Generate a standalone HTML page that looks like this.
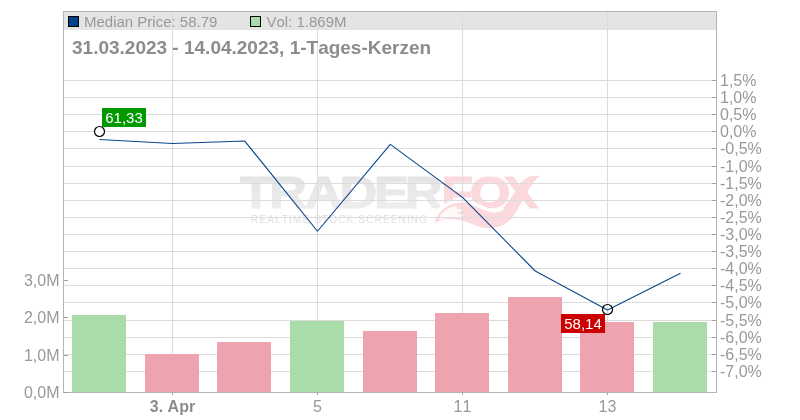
<!DOCTYPE html><html><head><meta charset="utf-8"><title>Chart</title><style>
html,body{margin:0;padding:0;background:#fff}svg{display:block}text{font-family:"Liberation Sans",Arial,sans-serif;font-kerning:none}
</style></head><body>
<svg width="800" height="420" viewBox="0 0 800 420">
<defs><linearGradient id="wg" x1="0" y1="0" x2="0" y2="1"><stop offset="0" stop-color="#e1e1e1"/><stop offset="1" stop-color="#f0f0f0"/></linearGradient></defs>
<rect width="800" height="420" fill="#fff"/>
<rect x="63" y="11" width="654" height="19" fill="#e4e4e4"/>
<text id="wm" transform="translate(0,207.5) scale(1.2,1)" x="200.01 224.29 253.87 282.88 311.73 337.20 367.69 391.40 419.63" y="0" font-weight="700" font-size="43.6" stroke-width="1.1" stroke-linejoin="round" fill="url(#wg)" stroke="url(#wg)">TRADER<tspan fill="#fbd9dc" stroke="#fbd9dc">FOX</tspan></text>
<text x="251" y="222.7" font-size="10" fill="#e0e0e0" textLength="176" lengthAdjust="spacing">REALTIME STOCK SCREENING</text>
<path d="M435.0 222.5 C435.3 221.6 436.0 218.9 437.0 217.0 C438.0 215.1 439.3 212.8 441.0 211.0 C442.7 209.2 444.8 207.8 447.0 206.5 C449.2 205.2 451.3 204.2 454.0 203.5 C456.7 202.8 460.3 202.4 463.0 202.5 C465.7 202.6 467.5 203.2 470.0 204.0 C472.5 204.8 475.3 206.3 478.0 207.5 C480.7 208.7 483.3 210.2 486.0 211.0 C488.7 211.8 491.7 212.4 494.0 212.5 C496.3 212.6 499.0 211.7 500.0 211.5" fill="none" stroke="#fff" stroke-width="7"/>
<path d="M540.0 176.0 C540.8 176.6 535.2 178.3 533.0 181.0 C530.8 183.7 529.0 188.3 527.0 192.0 C525.0 195.7 522.8 199.7 521.0 203.0 C519.2 206.3 517.8 209.2 516.0 212.0 C514.2 214.8 512.3 217.8 510.0 220.0 C507.7 222.2 505.0 224.2 502.0 225.5 C499.0 226.8 495.3 227.7 492.0 228.0 C488.7 228.3 485.3 228.2 482.0 227.5 C478.7 226.8 475.3 225.2 472.0 224.0 C468.7 222.8 465.7 221.3 462.0 220.5 C458.3 219.7 453.3 219.1 450.0 219.0 C446.7 218.9 444.5 219.4 442.0 220.0 C439.5 220.6 435.8 223.0 435.0 222.5 C434.2 222.0 436.0 218.9 437.0 217.0 C438.0 215.1 439.3 212.8 441.0 211.0 C442.7 209.2 444.8 207.8 447.0 206.5 C449.2 205.2 451.3 204.2 454.0 203.5 C456.7 202.8 460.3 202.4 463.0 202.5 C465.7 202.6 467.5 203.2 470.0 204.0 C472.5 204.8 475.3 206.3 478.0 207.5 C480.7 208.7 483.3 210.2 486.0 211.0 C488.7 211.8 491.7 212.4 494.0 212.5 C496.3 212.6 498.2 212.2 500.0 211.5 C501.8 210.8 503.5 209.9 505.0 208.5 C506.5 207.1 507.5 205.4 509.0 203.0 C510.5 200.6 512.2 197.2 514.0 194.0 C515.8 190.8 517.7 186.8 520.0 184.0 C522.3 181.2 524.7 178.8 528.0 177.5 C531.3 176.2 539.2 175.4 540.0 176.0 Z" fill="#fbd9dc"/>
<path d="M438.5 220.5 L441 214 L447 209 L455 205.5 L457 208.5 L464 210 L456 213.5 L465 214.5 L460 217.5 L450 217.5 Z" fill="#fff" fill-opacity="0.8"/>
<g shape-rendering="crispEdges" fill="#dcdcdc">
<rect x="64" y="80" width="652" height="1"/>
<rect x="64" y="97" width="652" height="1"/>
<rect x="64" y="114" width="652" height="1"/>
<rect x="64" y="131" width="652" height="1"/>
<rect x="64" y="148" width="652" height="1"/>
<rect x="64" y="166" width="652" height="1"/>
<rect x="64" y="183" width="652" height="1"/>
<rect x="64" y="200" width="652" height="1"/>
<rect x="64" y="217" width="652" height="1"/>
<rect x="64" y="234" width="652" height="1"/>
<rect x="64" y="251" width="652" height="1"/>
<rect x="64" y="268" width="652" height="1"/>
<rect x="64" y="285" width="652" height="1"/>
<rect x="64" y="302" width="652" height="1"/>
<rect x="64" y="320" width="652" height="1"/>
<rect x="64" y="337" width="652" height="1"/>
<rect x="64" y="354" width="652" height="1"/>
<rect x="64" y="371" width="652" height="1"/>
<rect x="172" y="12" width="1" height="380"/>
<rect x="317" y="12" width="1" height="380"/>
<rect x="462" y="12" width="1" height="380"/>
<rect x="607" y="12" width="1" height="380"/>
</g>
<g shape-rendering="crispEdges">
<rect x="72" y="315" width="54" height="77" fill="#a9dca8"/>
<rect x="145" y="354" width="54" height="38" fill="#eea4ae"/>
<rect x="217" y="342" width="54" height="50" fill="#eea4ae"/>
<rect x="290" y="321" width="54" height="71" fill="#a9dca8"/>
<rect x="363" y="331" width="54" height="61" fill="#eea4ae"/>
<rect x="435" y="313" width="54" height="79" fill="#eea4ae"/>
<rect x="508" y="297" width="54" height="95" fill="#eea4ae"/>
<rect x="580" y="322" width="54" height="70" fill="#eea4ae"/>
<rect x="653" y="322" width="54" height="70" fill="#a9dca8"/>
</g>
<g shape-rendering="crispEdges" fill="#b4b4b4">
<rect x="63" y="11" width="654" height="1"/>
<rect x="63" y="392" width="654" height="1"/>
<rect x="63" y="11" width="1" height="382"/>
<rect x="716" y="11" width="1" height="382"/>
</g>
<g shape-rendering="crispEdges" fill="#a0a0a0">
<rect x="712" y="80" width="4" height="1"/>
<rect x="712" y="97" width="4" height="1"/>
<rect x="712" y="114" width="4" height="1"/>
<rect x="712" y="131" width="4" height="1"/>
<rect x="712" y="148" width="4" height="1"/>
<rect x="712" y="166" width="4" height="1"/>
<rect x="712" y="183" width="4" height="1"/>
<rect x="712" y="200" width="4" height="1"/>
<rect x="712" y="217" width="4" height="1"/>
<rect x="712" y="234" width="4" height="1"/>
<rect x="712" y="251" width="4" height="1"/>
<rect x="712" y="268" width="4" height="1"/>
<rect x="712" y="285" width="4" height="1"/>
<rect x="712" y="302" width="4" height="1"/>
<rect x="712" y="320" width="4" height="1"/>
<rect x="712" y="337" width="4" height="1"/>
<rect x="712" y="354" width="4" height="1"/>
<rect x="712" y="371" width="4" height="1"/>
<rect x="64" y="280" width="4" height="1"/>
<rect x="64" y="317" width="4" height="1"/>
<rect x="64" y="355" width="4" height="1"/>
<rect x="64" y="392" width="4" height="1"/>
<rect x="172" y="393" width="1" height="2"/>
<rect x="317" y="393" width="1" height="2"/>
<rect x="462" y="393" width="1" height="2"/>
<rect x="607" y="393" width="1" height="2"/>
</g>
<polyline points="99.5,139.5 172.5,143.5 244.75,141.05 317.5,231.25 390.3,144.35 462.5,197.4 535.2,271.0 607.5,310 680.5,273.25" fill="none" stroke="#0d4890" stroke-width="1.15" stroke-linejoin="round"/>
<circle cx="99.5" cy="131.5" r="5" fill="#fff" stroke="#000" stroke-width="1.2"/>
<circle cx="607.5" cy="309.5" r="5" fill="none" stroke="#000" stroke-width="1.2"/>
<rect x="102" y="108" width="44" height="19" fill="#009900"/>
<text x="124" y="123" font-size="15" fill="#fff" text-anchor="middle">61,33</text>
<rect x="561" y="314" width="44" height="19" fill="#cc0000"/>
<text x="583" y="329" font-size="15" fill="#fff" text-anchor="middle">58,14</text>
<rect x="68.5" y="16.5" width="10" height="10" fill="#00428d" stroke="#000" stroke-width="1"/>
<text x="84" y="26.5" font-size="15" fill="#999">Median Price: 58.79</text>
<rect x="250.5" y="16.5" width="10" height="10" fill="#a9dca8" stroke="#000" stroke-width="1"/>
<text x="266.5" y="26.5" font-size="15" fill="#999">Vol: 1.869M</text>
<text x="72" y="53.5" font-size="19" font-weight="700" fill="#8c8c8c">31.03.2023 - 14.04.2023, 1-Tages-Kerzen</text>
<g font-size="16" fill="#999">
<text x="720" y="86">1,5%</text>
<text x="720" y="103">1,0%</text>
<text x="720" y="120">0,5%</text>
<text x="720" y="137">0,0%</text>
<text x="720" y="154">-0,5%</text>
<text x="720" y="172">-1,0%</text>
<text x="720" y="189">-1,5%</text>
<text x="720" y="206">-2,0%</text>
<text x="720" y="223">-2,5%</text>
<text x="720" y="240">-3,0%</text>
<text x="720" y="257">-3,5%</text>
<text x="720" y="274">-4,0%</text>
<text x="720" y="291">-4,5%</text>
<text x="720" y="308">-5,0%</text>
<text x="720" y="326">-5,5%</text>
<text x="720" y="343">-6,0%</text>
<text x="720" y="360">-6,5%</text>
<text x="720" y="377">-7,0%</text>
</g>
<g font-size="16" fill="#999" text-anchor="end">
<text x="59.5" y="286.0">3,0M</text>
<text x="59.5" y="323.0">2,0M</text>
<text x="59.5" y="361.0">1,0M</text>
<text x="59.5" y="398.0">0,0M</text>
</g>
<g font-size="16" fill="#999" text-anchor="middle">
<text x="172.5" y="412" font-weight="700" fill="#8c8c8c">3. Apr</text>
<text x="317.5" y="412">5</text>
<text x="462.5" y="412">11</text>
<text x="607.5" y="412">13</text>
</g>
</svg></body></html>
